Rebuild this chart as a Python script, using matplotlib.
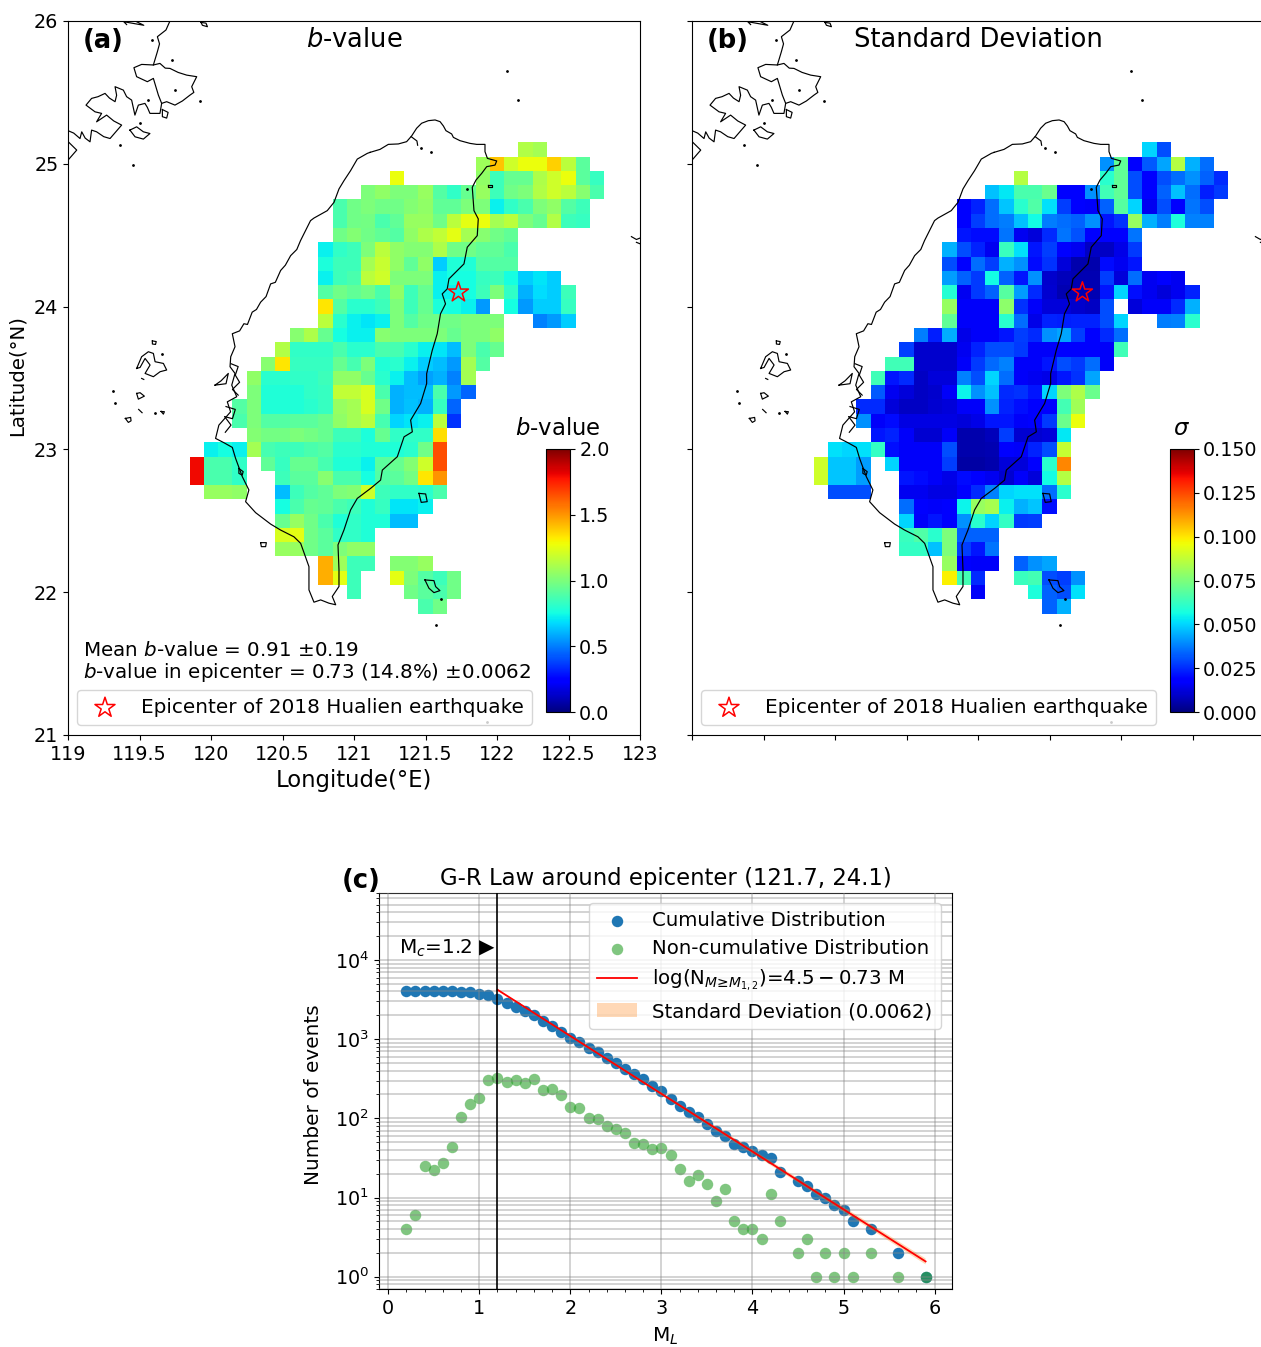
import numpy as np
import matplotlib
matplotlib.use("Agg")
import matplotlib.pyplot as plt
from matplotlib.ticker import MultipleLocator, LogLocator, NullFormatter

n = np.nan

# one row per latitude: (lat, first lon, values)
row_lats = [25.1, 25.0, 24.9, 24.8, 24.7, 24.6, 24.5, 24.4, 24.3, 24.2, 24.1, 24.0, 23.9, 23.8, 23.7, 23.6,
            23.5, 23.4, 23.3, 23.2, 23.1, 23.0, 22.9, 22.8, 22.7, 22.6, 22.5, 22.4, 22.3, 22.2, 22.1, 22.0, 21.9]
row_starts = [122.2, 121.9, 121.3, 121.1, 120.9, 120.9, 120.9, 120.8, 120.8, 120.8, 120.8, 120.8, 120.8, 120.6, 120.5, 120.4,
              120.3, 120.3, 120.2, 120.2, 120.3, 120.0, 119.9, 119.9, 120.0, 120.5, 120.5, 120.5, 120.5, 120.8, 120.8, 121.0, 121.5]

b_rows = [
    [1.13, 1.1],
    [1.08, 1.4, 1.2, 1.27, 1.27, 1.38, 1.15, .92],
    [1.27, n, n, n, n, n, 1.05, .85, .95, .95, 1.12, 1.2, 1.27, .92, .83],
    [1.0, 1.05, 1.0, 1.0, 1.07, .9, .82, .95, 1.07, .85, .97, 1.0, 1.13, 1.2, 1.15, 1.03, .88],
    [.88, .97, 1.0, .97, .97, 1.02, 1.05, .93, .93, 1.0, 1.0, .72, .82, .88, 1.0, 1.05, .9, .85],
    [.88, .97, .98, .88, .93, 1.07, 1.07, .97, 1.15, 1.25, 1.27, 1.1, 1.15, 1.0, .95, 1.13, .85, .83],
    [.97, 1.02, .97, .93, .9, 1.05, 1.12, 1.17, 1.25, 1.1, 1.03, .97, .93],
    [.72, .82, .85, 1.0, 1.15, 1.05, 1.02, 1.02, 1.12, .97, .97, .93, .93, .88],
    [.77, .85, .85, 1.1, 1.18, 1.05, .93, 1.05, .65, .78, .78, .9, .9, .9],
    [.72, .85, .88, 1.15, 1.2, 1.0, 1.0, 1.0, .72, .75, .75, .83, .85, .75, .65, .7, .65],
    [.9, .97, .93, .97, .88, 1.05, .85, .95, .72, .72, .75, .85, 1.0, .82, .6, .68, .65, .85],
    [1.33, .9, .8, .8, .85, 1.0, .85, .95, .77, .75, .72, .55, n, .75, .55, .65, .65, .83],
    [1.15, .8, .72, .7, .72, 1.0, .9, .97, .97, .97, 1.0, 1.0, 1.0, n, n, .5, .55, .65],
    [1.03, 1.12, .95, .75, .72, .72, 1.03, 1.0, 1.0, 1.0, 1.0, .95, 1.0, 1.0, 1.05],
    [1.13, .82, .82, .82, .88, .8, .8, .88, .87, .8, .72, .7, .62, 1.0, .88, .95],
    [1.03, 1.33, .83, .83, .83, .95, .87, 1.0, .78, .8, .72, .65, .62, .55, 1.1, .9],
    [1.05, .8, .8, .82, .82, .85, 1.05, 1.05, .95, .8, .72, .62, .57, .6, .5, 1.1],
    [1.0, .78, .78, .78, .82, .83, 1.17, 1.17, 1.22, .88, .6, .62, .62, .88, .55, .45],
    [.9, 1.0, .78, .78, .78, .8, .83, 1.07, 1.1, 1.22, .97, .6, .63, .6, .83, .45],
    [.88, 1.0, .9, .9, .92, .92, .95, 1.05, 1.1, 1.15, .87, .67, .7, .72, 1.15, .35],
    [1.02, .98, .98, 1.0, .98, .95, .85, .85, .77, .95, .82, .82, .82, 1.35],
    [.72, .75, .72, 1.1, .87, .85, .85, .88, .9, .8, .8, .78, .78, .78, .8, .97, 1.65],
    [1.8, .88, .88, .82, n, .93, .83, .95, .95, .87, .78, .78, .72, .92, .95, 1.02, 1.2, 1.65],
    [1.8, .88, .88, .82, n, n, .85, .92, .92, 1.03, .88, .88, .75, .9, .92, .98, 1.33, 1.5],
    [1.07, 1.07, 1.05, n, n, .62, .85, .9, .93, 1.0, 1.02, 1.2, .85, .82, .82, .8, .88],
    [.75, .88, .95, .93, .88, .85, .78, .83, .7, .7, .72],
    [.95, 1.07, .97, .88, .78, .82, .78, .78, .62, .62],
    [1.22, 1.25, .97, .92, .82, .82, .78],
    [1.07, 1.07, .97, .92, 1.0, 1.05, 1.05],
    [1.45, 1.08, .85, .85, n, 1.02, 1.02, 1.07],
    [1.45, 1.25, .85, n, n, 1.25, 1.0, .9, .85, .97],
    [.85, n, n, n, .97, .92, .88, .97],
    [.88, .97],
]

sd_rows = [
    [.05, .03],
    [.04, .07, .017, .032, .043, .085, .045, .035],
    [.085, n, n, n, n, n, .06, .07, .03, .017, .03, .035, .04, .033, .025],
    [.047, .053, .066, .066, .072, .017, .017, .04, .064, .07, .03, .018, .033, .047, .035, .023, .027],
    [.017, .024, .035, .048, .06, .067, .052, .028, .017, .016, .033, .068, .05, .015, .03, .018, .036, .03],
    [.018, .028, .035, .037, .047, .056, .037, .035, .033, .04, .022, .026, .08, .045, .037, .058, .038, .038],
    [.022, .02, .02, .036, .015, .012, .025, .036, .031, .017, .018, .018, .036],
    [.045, .03, .024, .015, .063, .052, .022, .028, .017, .015, .009, .009, .014, .027],
    [.03, .017, .035, .028, .045, .04, .02, .026, .012, .006, .006, .02, .015, .022],
    [.042, .033, .027, .056, .033, .022, .04, .01, .008, .007, .007, .028, .012, .035, .015, .018, .015],
    [.059, .015, .027, .033, .068, .042, .025, .011, .007, .007, .007, .022, .05, .021, .015, .012, .015, .024],
    [.08, .016, .016, .016, .078, .026, .016, .012, .012, .01, .009, .03, n, .012, .016, .016, .025, .045],
    [.07, .016, .016, .016, .06, .035, .014, .024, .023, .024, .024, .03, .05, n, n, .037, .038, .06],
    [.037, .023, .044, .014, .016, .016, .022, .028, .025, .04, .043, .028, .017, .025, .035],
    [.028, .01, .01, .01, .015, .024, .03, .03, .027, .016, .016, .018, .018, .017, .016, .064],
    [.064, .064, .01, .01, .01, .016, .027, .034, .038, .016, .016, .022, .03, .027, .035, .016],
    [.064, .022, .025, .009, .012, .012, .038, .03, .05, .035, .016, .015, .014, .022, .026, .043],
    [.032, .015, .012, .009, .01, .016, .055, .04, .047, .025, .026, .022, .05, .075, .084, .072],
    [.025, .025, .012, .009, .009, .011, .012, .016, .016, .04, .024, .021, .018, .017, .065, .082],
    [.04, .016, .02, .013, .013, .013, .013, .012, .014, .022, .022, .016, .017, .027, .072, .095],
    [.022, .024, .016, .011, .011, .016, .006, .006, .008, .028, .011, .011, .012, .053],
    [.052, .05, .052, .062, .021, .016, .016, .016, .03, .006, .006, .007, .018, .016, .024, .03, .088],
    [.09, .048, .048, .042, n, .05, .016, .016, .016, .028, .005, .005, .006, .012, .012, .017, .06, .115],
    [.09, .048, .048, .042, n, n, .022, .02, .016, .014, .02, .017, .015, .011, .016, .012, .056, .085],
    [.03, .03, .03, n, n, .015, .015, .013, .013, .018, .025, .038, .05, .052, .052, .035, .06],
    [.035, .018, .016, .017, .055, .08, .083, .054, .045, .048, .021],
    [.05, .016, .022, .018, .04, .06, .05, .062, .027, .028],
    [.063, .067, .06, .075, .033, .033, .033],
    [.062, .062, .047, .075, .028, .022, .036],
    [.08, .018, .016, .016, n, .033, .04, .043],
    [.098, .065, .025, n, n, .063, .065, .03, .028, .04],
    [.016, n, n, n, .058, .033, .03, .052],
    [.033, .045],
]

# coast outlines, lon/lat
taiwan = [(121.112, 25.080), (121.182, 25.101), (121.240, 25.136), (121.310, 25.139), (121.368, 25.155), (121.403, 25.195),
          (121.438, 25.249), (121.473, 25.284), (121.520, 25.302), (121.567, 25.307), (121.602, 25.295), (121.625, 25.265),
          (121.643, 25.232), (121.683, 25.209), (121.695, 25.185), (121.741, 25.162), (121.811, 25.143), (121.858, 25.136),
          (121.916, 25.136), (121.916, 25.085), (121.933, 25.038), (121.998, 25.020), (121.986, 24.991), (121.928, 24.980),
          (121.893, 24.933), (121.853, 24.886), (121.827, 24.835), (121.839, 24.672), (121.869, 24.614), (121.862, 24.497),
          (121.792, 24.416), (121.769, 24.299), (121.664, 24.194), (121.652, 24.124), (121.617, 24.089), (121.640, 24.019),
          (121.605, 23.950), (121.582, 23.810), (121.547, 23.693), (121.508, 23.530), (121.508, 23.461), (121.466, 23.322),
          (121.396, 23.205), (121.408, 23.123), (121.350, 23.088), (121.303, 22.949), (121.198, 22.855), (121.186, 22.785),
          (121.116, 22.727), (121.023, 22.657), (120.976, 22.576), (120.930, 22.436), (120.888, 22.331), (120.895, 22.157),
          (120.895, 22.040), (120.848, 21.970), (120.872, 21.912), (120.825, 21.923), (120.767, 21.946), (120.720, 21.930),
          (120.685, 22.016), (120.685, 22.179), (120.627, 22.342), (120.580, 22.388), (120.487, 22.435), (120.417, 22.477),
          (120.312, 22.557), (120.242, 22.634), (120.265, 22.716), (120.219, 22.809), (120.172, 22.937), (120.149, 23.014),
          (120.090, 23.047), (120.032, 23.077), (120.055, 23.170), (120.137, 23.263), (120.114, 23.333), (120.180, 23.369),
          (120.145, 23.450), (120.168, 23.532), (120.133, 23.579), (120.138, 23.649), (120.168, 23.719), (120.149, 23.810),
          (120.200, 23.830), (120.230, 23.880), (120.255, 23.875), (120.288, 23.961), (120.318, 23.980), (120.347, 24.031),
          (120.385, 24.070), (120.417, 24.159), (120.450, 24.170), (120.487, 24.253), (120.520, 24.290), (120.557, 24.357),
          (120.600, 24.400), (120.626, 24.462), (120.655, 24.520), (120.696, 24.602), (120.720, 24.620), (120.813, 24.672),
          (120.860, 24.730), (120.895, 24.824), (120.930, 24.882), (120.976, 24.952), (121.023, 25.033), (121.093, 25.073),
          (121.112, 25.080)]
mainland = [(119.713, 26.000), (119.685, 25.937), (119.625, 25.890), (119.640, 25.840), (119.625, 25.785), (119.597, 25.692),
            (119.515, 25.696), (119.461, 25.673), (119.480, 25.610), (119.555, 25.575), (119.597, 25.598), (119.632, 25.481),
            (119.655, 25.423), (119.643, 25.353), (119.573, 25.353), (119.555, 25.395), (119.538, 25.423), (119.492, 25.411),
            (119.468, 25.341), (119.445, 25.446), (119.410, 25.470), (119.387, 25.516), (119.329, 25.540), (119.340, 25.480),
            (119.329, 25.435), (119.290, 25.460), (119.259, 25.493), (119.210, 25.470), (119.165, 25.458), (119.126, 25.411),
            (119.189, 25.364), (119.235, 25.353), (119.200, 25.294), (119.270, 25.341), (119.320, 25.300), (119.375, 25.271),
            (119.294, 25.177), (119.250, 25.190), (119.200, 25.224), (119.165, 25.236), (119.154, 25.154), (119.120, 25.180),
            (119.096, 25.224), (119.084, 25.177), (119.040, 25.215), (118.991, 25.236), (119.002, 25.154), (119.061, 25.096),
            (118.990, 25.014)]
pingtan = [(119.597, 25.692), (119.643, 25.703), (119.680, 25.670), (119.713, 25.668), (119.770, 25.640), (119.830, 25.621),
           (119.900, 25.610), (119.865, 25.540), (119.880, 25.500), (119.853, 25.481), (119.800, 25.440), (119.748, 25.411),
           (119.690, 25.435), (119.655, 25.423)]
islands = [
    [(119.433, 25.236), (119.480, 25.259), (119.527, 25.224), (119.573, 25.212), (119.527, 25.173), (119.469, 25.189), (119.433, 25.236)],
    [(119.480, 25.995), (119.530, 25.970), (119.390, 25.995), (119.410, 25.975)],
    [(119.930, 25.990), (119.965, 25.985), (119.975, 25.960), (119.940, 25.970), (119.930, 25.990)],
    [(119.660, 25.380), (119.700, 25.360), (119.690, 25.320), (119.660, 25.330), (119.660, 25.380)],
    [(121.454, 22.692), (121.501, 22.688), (121.512, 22.634), (121.470, 22.629), (121.454, 22.692)],
    [(121.496, 22.086), (121.559, 22.081), (121.571, 22.039), (121.601, 22.011), (121.559, 21.997), (121.524, 22.028), (121.496, 22.086)],
    [(120.347, 22.347), (120.387, 22.347), (120.382, 22.319), (120.352, 22.319), (120.347, 22.347)],
    [(120.195, 22.867), (120.225, 22.844), (120.218, 22.820), (120.195, 22.832), (120.195, 22.867)],
    [(121.938, 24.855), (121.962, 24.855), (121.962, 24.838), (121.938, 24.838), (121.938, 24.855)],
    [(120.028, 23.450), (120.070, 23.480), (120.121, 23.532), (120.105, 23.460), (120.028, 23.450)],
    [(120.105, 23.300), (120.170, 23.280), (120.150, 23.215), (120.095, 23.230), (120.140, 23.170), (120.100, 23.120)],
    [(120.140, 23.600), (120.190, 23.580), (120.170, 23.520), (120.200, 23.470), (120.150, 23.420), (120.190, 23.380)],
    [(121.400, 25.190), (121.440, 25.160), (121.445, 25.130)],
    [(119.480, 23.567), (119.515, 23.649), (119.562, 23.684), (119.597, 23.672), (119.609, 23.614), (119.667, 23.602), (119.690, 23.556),
     (119.644, 23.544), (119.597, 23.509), (119.539, 23.532), (119.574, 23.591), (119.539, 23.637), (119.504, 23.574), (119.480, 23.567)],
    [(119.590, 23.760), (119.617, 23.755), (119.612, 23.735), (119.590, 23.738), (119.590, 23.760)],
    [(119.480, 23.392), (119.504, 23.397), (119.534, 23.373), (119.492, 23.352), (119.480, 23.392)],
    [(119.401, 23.217), (119.438, 23.224), (119.441, 23.200), (119.422, 23.189), (119.401, 23.217)],
    [(119.651, 23.266), (119.674, 23.264), (119.667, 23.247), (119.651, 23.266)],
    [(119.494, 23.280), (119.518, 23.257)],
    [(119.515, 23.497), (119.530, 23.490)],
    [(122.940, 24.490), (122.975, 24.470), (123.000, 24.480)],
    [(122.975, 24.450), (123.000, 24.440)],
]
speck_lon = [121.466, 121.536, 121.790, 119.317, 119.609, 119.329, 119.655, 122.07, 122.15, 121.605, 121.57, 121.93,
             119.748, 119.924, 119.562, 119.503, 119.364, 119.457, 119.725, 119.585]
speck_lat = [25.110, 25.080, 24.824, 23.406, 23.252, 23.322, 23.668, 25.65, 25.45, 21.951, 21.77, 21.09,
             25.516, 25.442, 25.446, 25.283, 25.131, 24.995, 25.727, 25.867]

# G-R data
mag_cum = [.2, .3, .4, .5, .6, .7, .8, .9, 1.0, 1.1, 1.2, 1.3, 1.4, 1.5, 1.6, 1.7, 1.8, 1.9, 2.0, 2.1, 2.2, 2.3, 2.4, 2.5, 2.6, 2.7, 2.8, 2.9,
           3.0, 3.1, 3.2, 3.3, 3.4, 3.5, 3.6, 3.7, 3.8, 3.9, 4.0, 4.1, 4.2, 4.3, 4.5, 4.6, 4.7, 4.8, 4.9, 5.0, 5.1, 5.3, 5.6, 5.9]
n_cum = [4100, 4096, 4090, 4065, 4040, 4010, 3970, 3900, 3750, 3570, 3240, 2880, 2560, 2280, 2010, 1680, 1480, 1240, 1020, 920, 765, 680,
         583, 495, 424, 360, 314, 258, 221, 176, 143, 119, 105, 85, 70, 60, 47, 43, 39, 34, 32, 21, 16, 14, 11, 10, 8, 7, 5, 4, 2, 1]
n_non = [4, 6, 25, 22, 27, 44, 105, 150, 180, 305, 326, 285, 302, 280, 314, 230, 235, 196, 138, 134, 100, 98, 80, 73, 65, 49, 48, 41,
         42, 34, 23, 16, 19, 15, 9, 13, 5, 4, 4, 3, 11, 5, 2, 3, 1, 2, 1, 2, 1, 2, 1, 1]
fit_mag = [1.2, 5.9]
fit_n = [4207, 1.56]
fit_upper = [4280, 1.70]
fit_lower = [4135, 1.43]
epi_lon = [121.73]
epi_lat = [24.1]

W = 1261
H = 1347
fig = plt.figure(figsize=(W / 100, H / 100), dpi=100)


def box(x0, y0, x1, y1):
    return [x0 / W, 1 - y1 / H, (x1 - x0) / W, (y1 - y0) / H]


def make_grid(rows):
    lat_c = np.arange(21.9, 25.15, 0.1)
    lon_c = np.arange(119.9, 122.75, 0.1)
    grid = np.full((len(lat_c), len(lon_c)), np.nan)
    for lat, start, vals in zip(row_lats, row_starts, rows):
        i = int(round((lat - 21.9) * 10))
        j = int(round((start - 119.9) * 10))
        grid[i, j:j + len(vals)] = vals
    edges_x = np.arange(119.85, 122.8, 0.1)
    edges_y = np.arange(21.85, 25.2, 0.1)
    return edges_x, edges_y, grid


FS_TICK = 13.8
FS_LEG = 14.4
COAST_LW = 0.85


def draw_map(ax, rows, vmax):
    ex, ey, grid = make_grid(rows)
    mesh = ax.pcolormesh(ex, ey, grid, cmap="jet", vmin=0, vmax=vmax, linewidth=0, rasterized=True)
    ax.plot(*zip(*taiwan), color="k", lw=COAST_LW)
    ax.plot(*zip(*mainland), color="k", lw=COAST_LW)
    ax.plot(*zip(*pingtan), color="k", lw=COAST_LW)
    for isl in islands:
        ax.plot(*zip(*isl), color="k", lw=COAST_LW)
    ax.plot(speck_lon, speck_lat, ls="none", marker="o", ms=1.0, color="k")
    star = ax.scatter(epi_lon, epi_lat, marker="*", s=230, facecolor="none", edgecolor="red", linewidth=1.1, zorder=5,
                      label="Epicenter of 2018 Hualien earthquake")
    ax.set_xlim(119, 123)
    ax.set_ylim(21, 26)
    ax.set_xticks([119, 119.5, 120, 120.5, 121, 121.5, 122, 122.5, 123])
    ax.set_yticks([21, 22, 23, 24, 25, 26])
    ax.legend(handles=[star], loc="lower left", bbox_to_anchor=(0.0157, 0.014), borderaxespad=0, fontsize=FS_LEG)
    return mesh


# panel a
ax_a = fig.add_axes(box(68, 21, 640, 735))
mesh_a = draw_map(ax_a, b_rows, 2.0)
ax_a.set_xticklabels(["119", "119.5", "120", "120.5", "121", "121.5", "122", "122.5", "123"])
ax_a.set_yticklabels(["21", "22", "23", "24", "25", "26"])
ax_a.tick_params(labelsize=FS_TICK)
ax_a.set_xlabel("Longitude(°E)", fontsize=16.4, labelpad=4)
ax_a.set_ylabel("Latitude(°N)", fontsize=14.2, labelpad=5, y=0.503)
ax_a.text(0.5, 0.9735, "$b$-value", transform=ax_a.transAxes, ha="center", va="center", fontsize=18.5)
ax_a.text(0.025, 0.972, "(a)", transform=ax_a.transAxes, ha="left", va="center", fontsize=18.6, fontweight="bold")
ax_a.text(0.0255, 0.1177, "Mean $b$-value = 0.91 ±0.19", transform=ax_a.transAxes, ha="left", va="center", fontsize=14.3)
ax_a.text(0.0255, 0.0869, "$b$-value in epicenter = 0.73 (14.8%) ±0.0062", transform=ax_a.transAxes, ha="left", va="center", fontsize=14.3)

cax_a = fig.add_axes(box(546, 449, 569.5, 712))
cb_a = fig.colorbar(mesh_a, cax=cax_a)
cb_a.set_ticks([0, 0.5, 1.0, 1.5, 2.0])
cb_a.ax.tick_params(labelsize=FS_TICK)
cax_a.set_title("$b$-value", fontsize=16.4, pad=10)

# panel b
ax_b = fig.add_axes(box(692, 21, 1264, 735))
mesh_b = draw_map(ax_b, sd_rows, 0.15)
ax_b.set_xticklabels([])
ax_b.set_yticklabels([])
ax_b.text(0.5, 0.9735, "Standard Deviation", transform=ax_b.transAxes, ha="center", va="center", fontsize=18.5)
ax_b.text(0.025, 0.972, "(b)", transform=ax_b.transAxes, ha="left", va="center", fontsize=18.6, fontweight="bold")

cax_b = fig.add_axes(box(1170, 449, 1193.5, 712))
cb_b = fig.colorbar(mesh_b, cax=cax_b)
cb_b.set_ticks([0, 0.025, 0.05, 0.075, 0.1, 0.125, 0.15])
cb_b.set_ticklabels(["0.000", "0.025", "0.050", "0.075", "0.100", "0.125", "0.150"])
cb_b.ax.tick_params(labelsize=FS_TICK)
cax_b.set_title(r"$\sigma$", fontsize=16.4, pad=10)

# panel c
ax_c = fig.add_axes(box(379, 893, 952, 1289))
ax_c.set_yscale("log")
ax_c.scatter(mag_cum, n_cum, s=68, color="C0", linewidths=0, label="Cumulative Distribution", zorder=2)
ax_c.scatter(mag_cum, n_non, s=68, color="C2", alpha=0.6, linewidths=0, label="Non-cumulative Distribution", zorder=2.1)
ax_c.plot(fit_mag, fit_n, color="red", lw=1.3, zorder=5, label=r"log(N$_{M≥M_{1,2}}$)=$4.5-0.73$ M")
ax_c.fill([fit_mag[0], fit_mag[1], fit_mag[1], fit_mag[0]], [fit_upper[0], fit_upper[1], fit_lower[1], fit_lower[0]],
          color="C1", alpha=0.3, lw=0, zorder=4, label="Standard Deviation (0.0062)")
ax_c.axvline(1.2, color="k", lw=1.2, zorder=6)
ax_c.text(1.18, 1.9e4, "M$_c$=1.2 ▶", ha="right", va="top", fontsize=FS_LEG)
ax_c.set_xlim(-0.1, 6.19)
ax_c.set_ylim(0.7, 7e4)
ax_c.xaxis.set_major_locator(MultipleLocator(1))
ax_c.xaxis.set_minor_locator(MultipleLocator(0.2))
ax_c.yaxis.set_major_locator(LogLocator(base=10, numticks=12))
ax_c.yaxis.set_minor_locator(LogLocator(base=10, subs=np.arange(2, 10), numticks=12))
ax_c.yaxis.set_minor_formatter(NullFormatter())
ax_c.tick_params(labelsize=FS_TICK)
ax_c.grid(True, axis="x", which="major", color="#888888", alpha=0.4, lw=1.3, zorder=3)
ax_c.grid(True, axis="y", which="both", color="#888888", alpha=0.4, lw=1.3, zorder=3)
ax_c.set_axisbelow(False)
ax_c.set_xlabel("M$_L$", fontsize=14.4, labelpad=5.5)
ax_c.set_ylabel("Number of events", fontsize=14.4, labelpad=9, y=0.49)
ax_c.set_title("G-R Law around epicenter (121.7, 24.1)", fontsize=16.4, pad=5.5)
ax_c.text(-0.065, 1.03, "(c)", transform=ax_c.transAxes, ha="left", va="center", fontsize=18.6, fontweight="bold")
ax_c.legend(loc="upper right", bbox_to_anchor=(0.98, 0.975), borderaxespad=0, fontsize=14.25, labelspacing=0.47)

fig.savefig("out.png", dpi=100)
